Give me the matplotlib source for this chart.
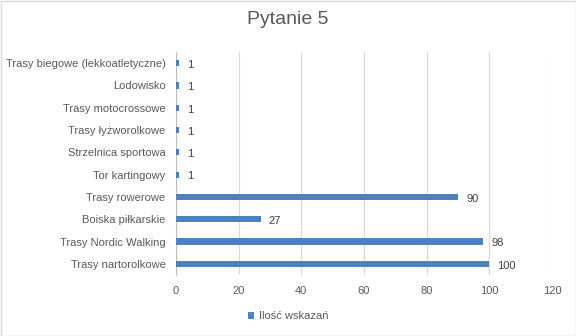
import matplotlib
matplotlib.use("Agg")
import matplotlib.pyplot as plt
from matplotlib.patches import Rectangle

categories = ["Trasy biegowe (lekkoatletyczne)", "Lodowisko", "Trasy motocrossowe",
              "Trasy łyżworolkowe", "Strzelnica sportowa", "Tor kartingowy",
              "Trasy rowerowe", "Boiska piłkarskie", "Trasy Nordic Walking",
              "Trasy nartorolkowe"]
values = [1, 1, 1, 1, 1, 1, 90, 27, 98, 100]
xticks = [0, 20, 40, 60, 80, 100, 120]
series_name = "Ilość wskazań"
title = "Pytanie 5"

plt.rcParams['font.family'] = ['Liberation Sans', 'DejaVu Sans']
txt = "#595959"
bar_color = "#4f81bd"

fig = plt.figure(figsize=(5.76, 3.36), dpi=100)
ax = fig.add_axes([176/576, 1-275/336, (552-176)/576, (275-52)/336])

n = len(categories)
ypos = list(range(n))[::-1]
ax.barh(ypos, values, height=0.28, color=bar_color, label=series_name, zorder=3)
for y, v in zip(ypos, values):
    ax.text(v + 2.6, y - 0.08, str(v), va='center', ha='left', fontsize=8, color="#404040")

ax.set_xlim(0, 120)
ax.set_ylim(-0.5, n - 0.5)
ax.set_xticks(xticks)
ax.set_xticklabels([str(t) for t in xticks])
ax.set_yticks(ypos)
ax.set_yticklabels(categories)
ax.tick_params(axis='both', length=0, labelsize=8, colors=txt)
ax.tick_params(axis='x', pad=8)
ax.tick_params(axis='y', pad=7.5)
ax.grid(axis='x', color="#d9d9d9", linewidth=0.8, zorder=0)
for s in ['top', 'right', 'bottom']:
    ax.spines[s].set_visible(False)
ax.spines['left'].set_color("#bfbfbf")
ax.spines['left'].set_linewidth(0.8)

fig.text(0.5, 1-20/336, title, ha='center', va='center', fontsize=14, color=txt)
leg = fig.legend(loc='center', bbox_to_anchor=(0.5, 1-316/336), frameon=False,
                 fontsize=8, handlelength=0.6, handleheight=0.6, handletextpad=0.4)
for t in leg.get_texts():
    t.set_color(txt)

fig.patches.append(Rectangle((0.5/576, 0.5/336), 1-1/576, 1-1/336, transform=fig.transFigure,
                             fill=False, edgecolor="#d9d9d9", linewidth=1))
fig.savefig("out.png", dpi=100, facecolor="white")
